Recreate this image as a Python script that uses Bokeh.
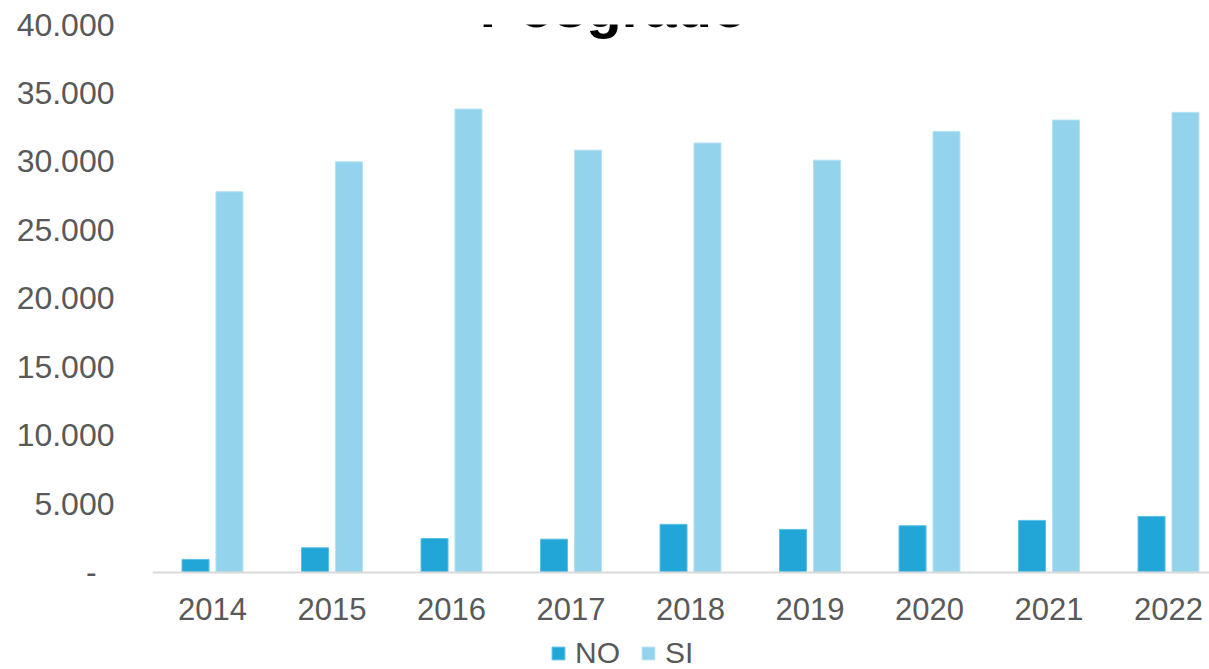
from bokeh.plotting import figure
from bokeh.models import ColumnDataSource, FixedTicker, Legend, LegendItem, Label, Range1d
from bokeh.transform import dodge
from bokeh.embed import file_html
from bokeh.resources import INLINE

# ---- data ----
years = [2014, 2015, 2016, 2017, 2018, 2019, 2020, 2021, 2022]
no_vals = [920, 1770, 2450, 2400, 3480, 3110, 3380, 3770, 4060]
si_vals = [27780, 29970, 33820, 30820, 31340, 30090, 32190, 33020, 33580]
series_names = ["NO", "SI"]
y_ticks = [0, 5000, 10000, 15000, 20000, 25000, 30000, 35000, 40000]
y_tick_labels = ["-\u00a0\u00a0", "5.000", "10.000", "15.000", "20.000",
                 "25.000", "30.000", "35.000", "40.000"]
title_text = "Posgrado"

FONT = "Liberation Sans"
GREY = "#595959"
C_NO = "#22A6D8"
C_SI = "#93D3EC"

src = ColumnDataSource(dict(year=years, no=no_vals, si=si_vals))

# frame spans to the bottom edge; the x axis sits at y=0 (fixed_location)
p = figure(width=1209, height=669, output_backend="svg", toolbar_location=None,
           x_range=Range1d(2013.498, 2022.343), y_range=Range1d(-7123, 40000),
           min_border_left=152, min_border_right=0, min_border_top=24,
           min_border_bottom=0)
p.outline_line_color = None
p.background_fill_color = "white"
p.border_fill_color = "white"
p.xgrid.visible = False
p.ygrid.visible = False

r_no = p.vbar(x=dodge("year", -0.142, range=p.x_range), top="no", width=0.226,
              source=src, fill_color=C_NO, line_color="#5CC0E6", line_width=1)
r_si = p.vbar(x=dodge("year", 0.142, range=p.x_range), top="si", width=0.226,
              source=src, fill_color=C_SI, line_color="#B5E2F4", line_width=1)

# x axis
xa = p.xaxis[0]
xa.fixed_location = 0
xa.ticker = FixedTicker(ticks=years)
xa.major_label_overrides = {y: str(y) for y in years}
xa.axis_line_color = "#D9D9D9"
xa.axis_line_width = 2
xa.major_tick_line_color = None
xa.minor_tick_line_color = None
xa.major_label_text_font = FONT
xa.major_label_text_font_size = "31px"
xa.major_label_text_color = GREY
xa.major_label_standoff = 20

# y axis
ya = p.yaxis[0]
ya.ticker = FixedTicker(ticks=y_ticks)
ya.major_label_overrides = {t: l for t, l in zip(y_ticks, y_tick_labels)}
ya.axis_line_color = None
ya.major_tick_line_color = None
ya.minor_tick_line_color = None
ya.major_label_text_font = FONT
ya.major_label_text_font_size = "32px"
ya.major_label_text_color = GREY
ya.major_label_standoff = 32

# legend
legend = Legend(items=[LegendItem(label=series_names[0], renderers=[r_no]),
                       LegendItem(label=series_names[1], renderers=[r_si])],
                orientation="horizontal", location=(398, -1),
                border_line_color=None, background_fill_alpha=0,
                label_text_font=FONT, label_text_font_size="30px",
                label_text_color=GREY, glyph_width=16, glyph_height=16,
                label_standoff=9, spacing=20, padding=0, margin=0)
p.add_layout(legend, "center")

# title (partly clipped at the top, as in the reference)
title = Label(x=2017.356, y=41279, text=title_text,
              text_font=FONT, text_font_size="58px", text_font_style="bold",
              text_color="black", text_align="center", text_baseline="alphabetic")
p.add_layout(title)

open("out.html", "w").write(file_html(p, INLINE))
